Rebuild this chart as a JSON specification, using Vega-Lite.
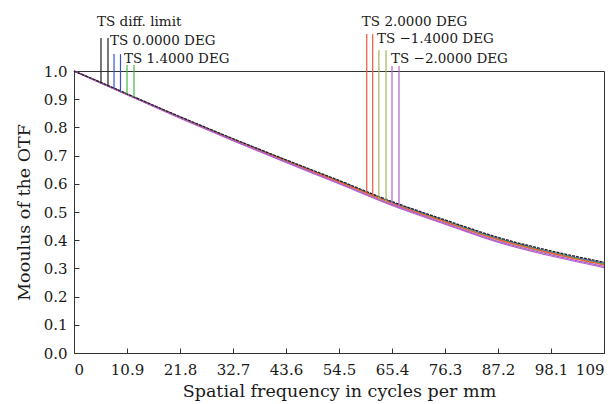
{
  "$schema": "https://vega.github.io/schema/vega-lite/v6.json",
  "width": 530,
  "height": 282,
  "autosize": "none",
  "padding": {"left": 74, "top": 71, "right": 12, "bottom": 51},
  "background": "white",
  "config": {
    "view": {"stroke": "#333", "strokeWidth": 1},
    "font": "DejaVu Serif",
    "axis": {
      "domainColor": "#333",
      "tickColor": "#333",
      "tickSize": -5,
      "grid": false,
      "labelOverlap": false,
      "labelFont": "DejaVu Serif",
      "labelFontSize": 15,
      "labelColor": "#1a1a1a",
      "titleFont": "DejaVu Serif",
      "titleFontSize": 17.5,
      "titleFontWeight": "normal",
      "titleColor": "#1a1a1a"
    }
  },
  "datasets": {
    "curves": [
      {"field": "0.0", "id": "0.0", "f": 0, "mtf": 1.0}, {"field": "0.0", "id": "0.0", "f": 5.45, "mtf": 0.960}, {"field": "0.0", "id": "0.0", "f": 10.9, "mtf": 0.918}, {"field": "0.0", "id": "0.0", "f": 21.8, "mtf": 0.837}, {"field": "0.0", "id": "0.0", "f": 32.7, "mtf": 0.759}, {"field": "0.0", "id": "0.0", "f": 43.6, "mtf": 0.683}, {"field": "0.0", "id": "0.0", "f": 54.5, "mtf": 0.610}, {"field": "0.0", "id": "0.0", "f": 65.4, "mtf": 0.534}, {"field": "0.0", "id": "0.0", "f": 76.3, "mtf": 0.469}, {"field": "0.0", "id": "0.0", "f": 87.2, "mtf": 0.407}, {"field": "0.0", "id": "0.0", "f": 98.1, "mtf": 0.358}, {"field": "0.0", "id": "0.0", "f": 109, "mtf": 0.318},
      {"field": "1.4", "id": "1.4", "f": 0, "mtf": 1.0}, {"field": "1.4", "id": "1.4", "f": 5.45, "mtf": 0.959}, {"field": "1.4", "id": "1.4", "f": 10.9, "mtf": 0.918}, {"field": "1.4", "id": "1.4", "f": 21.8, "mtf": 0.836}, {"field": "1.4", "id": "1.4", "f": 32.7, "mtf": 0.758}, {"field": "1.4", "id": "1.4", "f": 43.6, "mtf": 0.682}, {"field": "1.4", "id": "1.4", "f": 54.5, "mtf": 0.608}, {"field": "1.4", "id": "1.4", "f": 65.4, "mtf": 0.532}, {"field": "1.4", "id": "1.4", "f": 76.3, "mtf": 0.467}, {"field": "1.4", "id": "1.4", "f": 87.2, "mtf": 0.404}, {"field": "1.4", "id": "1.4", "f": 98.1, "mtf": 0.356}, {"field": "1.4", "id": "1.4", "f": 109, "mtf": 0.315},
      {"field": "-1.4", "id": "-1.4", "f": 0, "mtf": 1.0}, {"field": "-1.4", "id": "-1.4", "f": 5.45, "mtf": 0.959}, {"field": "-1.4", "id": "-1.4", "f": 10.9, "mtf": 0.917}, {"field": "-1.4", "id": "-1.4", "f": 21.8, "mtf": 0.835}, {"field": "-1.4", "id": "-1.4", "f": 32.7, "mtf": 0.756}, {"field": "-1.4", "id": "-1.4", "f": 43.6, "mtf": 0.680}, {"field": "-1.4", "id": "-1.4", "f": 54.5, "mtf": 0.605}, {"field": "-1.4", "id": "-1.4", "f": 65.4, "mtf": 0.529}, {"field": "-1.4", "id": "-1.4", "f": 76.3, "mtf": 0.464}, {"field": "-1.4", "id": "-1.4", "f": 87.2, "mtf": 0.401}, {"field": "-1.4", "id": "-1.4", "f": 98.1, "mtf": 0.352}, {"field": "-1.4", "id": "-1.4", "f": 109, "mtf": 0.312},
      {"field": "2.0", "id": "2.0", "f": 0, "mtf": 1.0}, {"field": "2.0", "id": "2.0", "f": 5.45, "mtf": 0.959}, {"field": "2.0", "id": "2.0", "f": 10.9, "mtf": 0.918}, {"field": "2.0", "id": "2.0", "f": 21.8, "mtf": 0.836}, {"field": "2.0", "id": "2.0", "f": 32.7, "mtf": 0.757}, {"field": "2.0", "id": "2.0", "f": 43.6, "mtf": 0.681}, {"field": "2.0", "id": "2.0", "f": 54.5, "mtf": 0.607}, {"field": "2.0", "id": "2.0", "f": 65.4, "mtf": 0.531}, {"field": "2.0", "id": "2.0", "f": 76.3, "mtf": 0.465}, {"field": "2.0", "id": "2.0", "f": 87.2, "mtf": 0.402}, {"field": "2.0", "id": "2.0", "f": 98.1, "mtf": 0.354}, {"field": "2.0", "id": "2.0", "f": 109, "mtf": 0.313},
      {"field": "-2.0", "id": "-2.0S", "f": 0, "mtf": 1.0}, {"field": "-2.0", "id": "-2.0S", "f": 5.45, "mtf": 0.958}, {"field": "-2.0", "id": "-2.0S", "f": 10.9, "mtf": 0.917}, {"field": "-2.0", "id": "-2.0S", "f": 21.8, "mtf": 0.834}, {"field": "-2.0", "id": "-2.0S", "f": 32.7, "mtf": 0.754}, {"field": "-2.0", "id": "-2.0S", "f": 43.6, "mtf": 0.678}, {"field": "-2.0", "id": "-2.0S", "f": 54.5, "mtf": 0.602}, {"field": "-2.0", "id": "-2.0S", "f": 65.4, "mtf": 0.526}, {"field": "-2.0", "id": "-2.0S", "f": 76.3, "mtf": 0.460}, {"field": "-2.0", "id": "-2.0S", "f": 87.2, "mtf": 0.396}, {"field": "-2.0", "id": "-2.0S", "f": 98.1, "mtf": 0.348}, {"field": "-2.0", "id": "-2.0S", "f": 109, "mtf": 0.307},
      {"field": "-2.0", "id": "-2.0T", "f": 0, "mtf": 1.0}, {"field": "-2.0", "id": "-2.0T", "f": 5.45, "mtf": 0.958}, {"field": "-2.0", "id": "-2.0T", "f": 10.9, "mtf": 0.916}, {"field": "-2.0", "id": "-2.0T", "f": 21.8, "mtf": 0.833}, {"field": "-2.0", "id": "-2.0T", "f": 32.7, "mtf": 0.753}, {"field": "-2.0", "id": "-2.0T", "f": 43.6, "mtf": 0.676}, {"field": "-2.0", "id": "-2.0T", "f": 54.5, "mtf": 0.600}, {"field": "-2.0", "id": "-2.0T", "f": 65.4, "mtf": 0.523}, {"field": "-2.0", "id": "-2.0T", "f": 76.3, "mtf": 0.457}, {"field": "-2.0", "id": "-2.0T", "f": 87.2, "mtf": 0.393}, {"field": "-2.0", "id": "-2.0T", "f": 98.1, "mtf": 0.344}, {"field": "-2.0", "id": "-2.0T", "f": 109, "mtf": 0.303}
    ],
    "diffraction": [
      {"field": "diff", "f": 0, "mtf": 1.0}, {"field": "diff", "f": 5.45, "mtf": 0.960}, {"field": "diff", "f": 10.9, "mtf": 0.919}, {"field": "diff", "f": 21.8, "mtf": 0.838}, {"field": "diff", "f": 32.7, "mtf": 0.760}, {"field": "diff", "f": 43.6, "mtf": 0.685}, {"field": "diff", "f": 54.5, "mtf": 0.612}, {"field": "diff", "f": 65.4, "mtf": 0.537}, {"field": "diff", "f": 76.3, "mtf": 0.472}, {"field": "diff", "f": 87.2, "mtf": 0.410}, {"field": "diff", "f": 98.1, "mtf": 0.362}, {"field": "diff", "f": 109, "mtf": 0.322}
    ],
    "markers": [
      {"field": "diff", "f": 5.55, "mtf": 0.958, "top": 1.117},
      {"field": "diff", "f": 6.99, "mtf": 0.948, "top": 1.117},
      {"field": "0.0", "f": 8.23, "mtf": 0.938, "top": 1.060},
      {"field": "0.0", "f": 9.56, "mtf": 0.928, "top": 1.060},
      {"field": "1.4", "f": 10.9, "mtf": 0.918, "top": 1.021},
      {"field": "1.4", "f": 12.34, "mtf": 0.907, "top": 1.021},
      {"field": "2.0", "f": 60.2, "mtf": 0.562, "top": 1.131},
      {"field": "2.0", "f": 61.43, "mtf": 0.554, "top": 1.131},
      {"field": "-1.4", "f": 62.7, "mtf": 0.545, "top": 1.074},
      {"field": "-1.4", "f": 64.17, "mtf": 0.536, "top": 1.074},
      {"field": "-2.0", "f": 65.4, "mtf": 0.523, "top": 1.018},
      {"field": "-2.0", "f": 66.84, "mtf": 0.514, "top": 1.018}
    ],
    "labels": [
      {"label": "TS diff. limit", "f": 4.73, "mtf": 1.161},
      {"label": "TS 0.0000 DEG", "f": 7.4, "mtf": 1.092},
      {"label": "TS 1.4000 DEG", "f": 10.28, "mtf": 1.027},
      {"label": "TS 2.0000 DEG", "f": 59.2, "mtf": 1.160},
      {"label": "TS −1.4000 DEG", "f": 62.3, "mtf": 1.098},
      {"label": "TS −2.0000 DEG", "f": 65.2, "mtf": 1.029}
    ]
  },
  "encoding": {
    "x": {
      "field": "f", "type": "quantitative",
      "scale": {"domain": [0, 109], "nice": false, "zero": false},
      "axis": {
        "title": "Spatial frequency in cycles per mm",
        "values": [0, 10.9, 21.8, 32.7, 43.6, 54.5, 65.4, 76.3, 87.2, 98.1, 109],
        "format": ".1~f",
        "labelPadding": 14,
        "titlePadding": 5
      }
    },
    "y": {
      "field": "mtf", "type": "quantitative",
      "scale": {"domain": [0, 1], "nice": false, "zero": false},
      "axis": {
        "title": "Mooulus of the OTF",
        "values": [0, 0.1, 0.2, 0.3, 0.4, 0.5, 0.6, 0.7, 0.8, 0.9, 1.0],
        "format": ".1f",
        "labelPadding": 12,
        "titlePadding": 10
      }
    },
    "color": {
      "field": "field", "type": "nominal",
      "scale": {"domain": ["diff", "0.0", "1.4", "2.0", "-1.4", "-2.0"], "range": ["#222222", "#3a4fd8", "#44bb44", "#f4553f", "#aab358", "#b460cc"]},
      "legend": null
    }
  },
  "layer": [
    {
      "data": {"name": "curves"},
      "mark": {"type": "line", "strokeWidth": 1.2, "interpolate": "monotone"},
      "encoding": {
        "detail": {"field": "id"}
      }
    },
    {
      "data": {"name": "diffraction"},
      "mark": {"type": "line", "strokeWidth": 1.3, "strokeDash": [3, 1], "interpolate": "monotone"},
      "encoding": {}
    },
    {
      "data": {"name": "markers"},
      "mark": {"type": "rule", "strokeWidth": 1.2, "clip": false},
      "encoding": {
        "y2": {"field": "top"}
      }
    },
    {
      "data": {"name": "labels"},
      "mark": {"type": "text", "align": "left", "baseline": "alphabetic", "font": "DejaVu Serif", "fontSize": 13.5, "clip": false},
      "encoding": {
        "text": {"field": "label"},
        "color": {"value": "#1a1a1a"}
      }
    }
  ]
}
